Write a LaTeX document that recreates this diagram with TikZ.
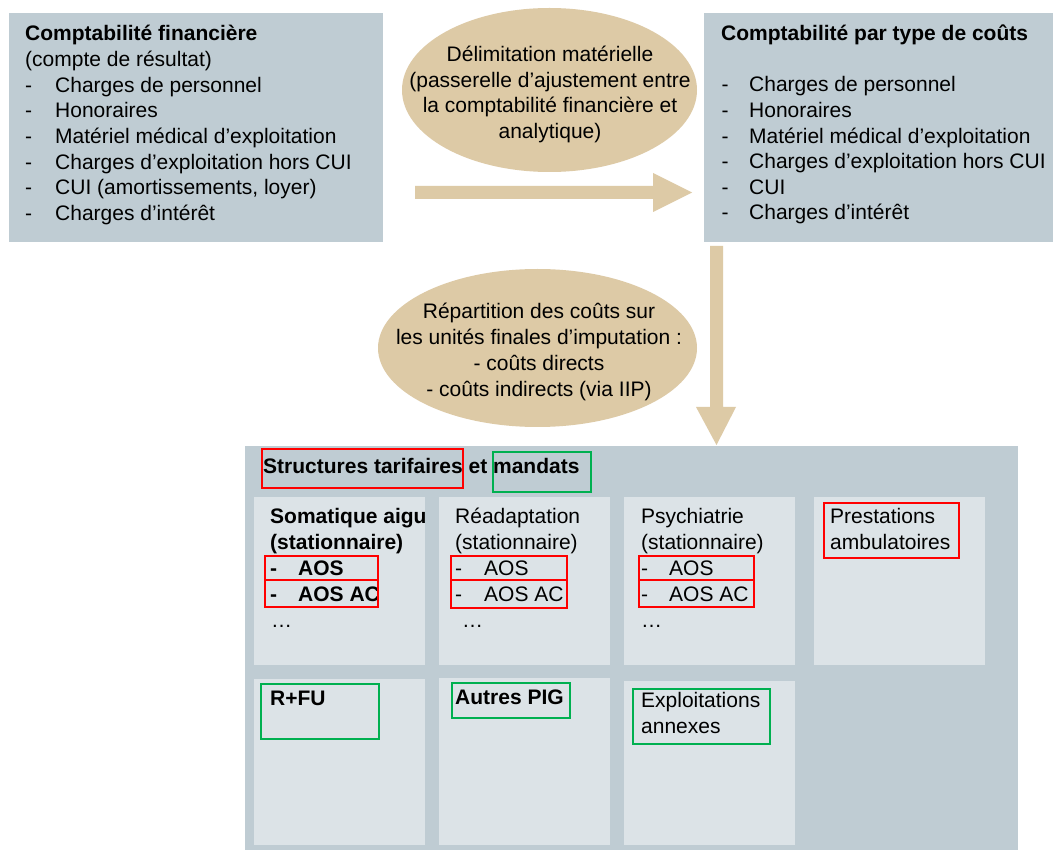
\documentclass[tikz,border=0pt]{standalone}
\usepackage{fontspec}
\setmainfont{Liberation Sans}
\usetikzlibrary{shapes.geometric}
\definecolor{panelc}{HTML}{BFCCD3}
\definecolor{innerc}{HTML}{DCE3E7}
\definecolor{tanc}{HTML}{DDCAA6}
\definecolor{redc}{HTML}{FF0000}
\definecolor{greenc}{HTML}{00B050}
\newcommand\myitem[2]{\makebox[#1pt][l]{-}#2}
\begin{document}
\begin{tikzpicture}[x=1pt,y=-1pt,
  txt/.style={inner sep=0pt, anchor=base west, font=\fontsize{21}{25.6}\selectfont},
  btxt/.style={txt, font=\fontsize{21}{25.6}\selectfont\bfseries},
  ctxt/.style={txt, anchor=base},
  rbox/.style 2 args={inner sep=0pt, outer sep=0pt, anchor=north west, minimum width=#1pt, minimum height=#2pt},
  panelbox/.style 2 args={rbox={#1}{#2}, fill=panelc},
  innerbox/.style 2 args={rbox={#1}{#2}, fill=innerc},
  redbox/.style 2 args={rbox={#1}{#2}, draw=redc, line width=2.4pt},
  greenbox/.style 2 args={rbox={#1}{#2}, draw=greenc, line width=2.4pt},
  oval/.style 2 args={ellipse, fill=tanc, inner sep=0pt, minimum width=#1pt, minimum height=#2pt}]
\useasboundingbox (0,0) rectangle (1053,850);
\fill[white] (0,0) rectangle (1053,850);

% ---------- top boxes ----------
\node[panelbox={374}{229}] (fin) at (9,13) {};
\node[panelbox={349}{229}] (ktype) at (704,13) {};

\node[btxt] (fin-t) at (25,40.7) {Comptabilité financière};
\node[txt] (fin-s) at (25,66.4) {(compte de résultat)};
\foreach \t [count=\i] in {Charges de personnel, Honoraires, Matériel médical d’exploitation, Charges d’exploitation hors CUI, {CUI (amortissements, loyer)}, Charges d’intérêt}
  \node[txt] (fin-\i) at (25,66.4+25.7*\i) {\myitem{30}{\t}};

\node[btxt] (kt-t) at (721,40.7) {Comptabilité par type de coûts};
\foreach \t [count=\i] in {Charges de personnel, Honoraires, Matériel médical d’exploitation, Charges d’exploitation hors CUI, CUI, Charges d’intérêt}
  \node[txt] (kt-\i) at (721.5,66.4+25.6*\i) {\myitem{27.5}{\t}};

% ---------- ellipse 1 and horizontal arrow ----------
\node[oval={295}{164}] (delim) at (549.5,90) {};
\foreach \t [count=\i] in {{Délimitation matérielle}, {(passerelle d’ajustement entre}, {la comptabilité financière et}, {analytique)}}
  \node[ctxt] (delim-\i) at (550,61.7+25.45*\i-25.45) {\t};

\coordinate (ha-s) at (fin.east |- 0,192.5);
\coordinate (ha-e) at (ktype.west |- 0,192.5);
\fill[tanc] ([xshift=32pt,yshift=6.5pt]ha-s) -- ([xshift=-51pt,yshift=6.5pt]ha-e)
  -- ([xshift=-51pt,yshift=19.5pt]ha-e) -- ([xshift=-12pt]ha-e)
  -- ([xshift=-51pt,yshift=-19.5pt]ha-e) -- ([xshift=-51pt,yshift=-6.5pt]ha-e)
  -- ([xshift=32pt,yshift=-6.5pt]ha-s) -- cycle;

% ---------- ellipse 2 and vertical arrow ----------
\node[oval={319}{158}] (repart) at (537.5,348) {};
\foreach \t [count=\i] in {{Répartition des coûts sur}, {les unités finales d’imputation :}, {- coûts directs}, {- coûts indirects (via IIP)}}
  \node[ctxt] (repart-\i) at (539,319+26*\i-26) {\t};

% ---------- bottom panel ----------
\node[panelbox={773}{404}] (panel) at (245,446) {};

\coordinate (va-s) at (716.5,246);
\coordinate (va-e) at (716.5,445);
\fill[tanc] ([xshift=-6.5pt]va-s) -- ([xshift=6.5pt]va-s) -- ([xshift=6.5pt,yshift=38pt]va-e)
  -- ([xshift=19.5pt,yshift=38pt]va-e) -- (va-e) -- ([xshift=-20.5pt,yshift=38pt]va-e)
  -- ([xshift=-6.5pt,yshift=38pt]va-e) -- cycle;

\node[innerbox={171}{168}] (somat) at (254,497) {};
\node[innerbox={171}{168}] (readapt) at (439,497) {};
\node[innerbox={171}{168}] (psych) at (624,497) {};
\node[innerbox={171}{168}] (ambu) at (814,497) {};
\node[innerbox={171}{166}] (rfu) at (254,679) {};
\node[innerbox={171}{167}] (pig) at (439,678) {};
\node[innerbox={171}{164}] (annex) at (624,681) {};

\node[btxt] (st-t) at (263,473) {Structures tarifaires et mandats};

\node[btxt] (somat-1) at (270,523) {Somatique aigu};
\node[btxt] (somat-2) at (270,549) {(stationnaire)};
\node[btxt] (somat-3) at (270,575) {\myitem{28}{AOS}};
\node[btxt] (somat-4) at (270,601) {\myitem{28}{AOS AC}};
\node[txt] (somat-5) at (271,627) {…};

\node[txt] (readapt-1) at (455,523) {Réadaptation};
\node[txt] (readapt-2) at (455,549) {(stationnaire)};
\node[txt] (readapt-3) at (455,575) {\myitem{29}{AOS}};
\node[txt] (readapt-4) at (455,601) {\myitem{29}{AOS AC}};
\node[txt] (readapt-5) at (462,627) {…};

\node[txt] (psych-1) at (641,523) {Psychiatrie};
\node[txt] (psych-2) at (641,549) {(stationnaire)};
\node[txt] (psych-3) at (641,575) {\myitem{28}{AOS}};
\node[txt] (psych-4) at (641,601) {\myitem{28}{AOS AC}};
\node[txt] (psych-5) at (641,627) {…};

\node[txt] (ambu-1) at (830,523) {Prestations};
\node[txt] (ambu-2) at (830,549) {ambulatoires};

\node[btxt] (rfu-1) at (270,705) {R+FU};
\node[btxt] (pig-1) at (455,704) {Autres PIG};
\node[txt] (annex-1) at (641,707) {Exploitations};
\node[txt] (annex-2) at (641,733) {annexes};

% ---------- red / green highlight frames ----------
\node[redbox={201}{39}] (r-st) at (262,449) {};
\node[greenbox={98}{40}] (g-md) at (493,452) {};
\node[redbox={113}{24}] (r-s1) at (265,556) {};
\node[redbox={113}{27}] (r-s2) at (265,580) {};
\node[redbox={116}{24}] (r-r1) at (451,556) {};
\node[redbox={116}{28}] (r-r2) at (451,580) {};
\node[redbox={115}{24}] (r-p1) at (639,556) {};
\node[redbox={115}{27}] (r-p2) at (639,580) {};
\node[redbox={135}{55}] (r-amb) at (824,503) {};
\node[greenbox={118}{55}] (g-rfu) at (261,684) {};
\node[greenbox={118}{35}] (g-pig) at (452,683) {};
\node[greenbox={137}{55}] (g-ann) at (633,689) {};
\end{tikzpicture}
\end{document}
